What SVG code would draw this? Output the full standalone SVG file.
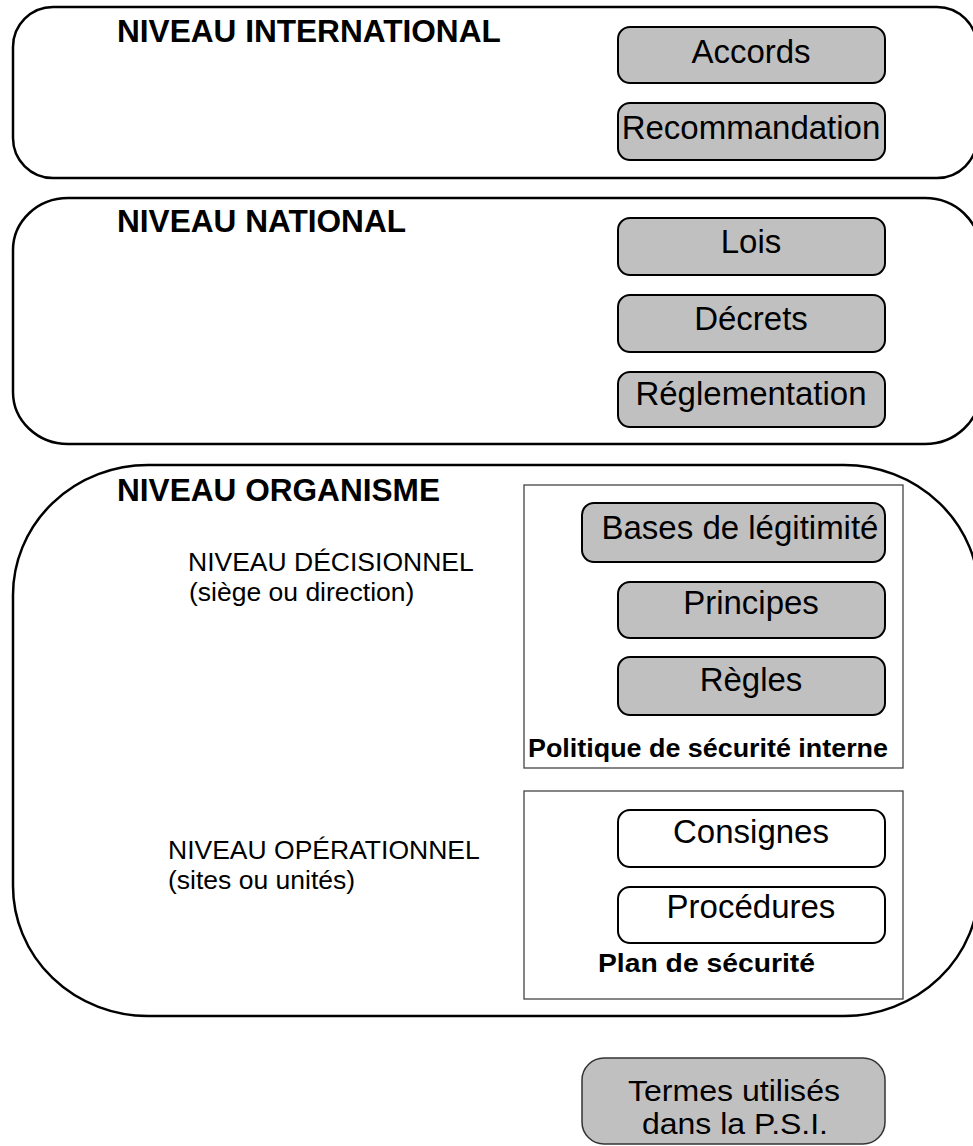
<svg xmlns="http://www.w3.org/2000/svg" width="973" height="1146" viewBox="0 0 973 1146">
<style>
.lvl{fill:#fff;stroke:#000;stroke-width:2.5}
.box{fill:#c0c0c0;stroke:#000;stroke-width:2}
.wbox{fill:#fff;stroke:#000;stroke-width:2}
.grp{fill:none;stroke:#444;stroke-width:1.3}
.h{font-family:"Liberation Sans",Arial,sans-serif;font-weight:bold;font-size:31.6px;fill:#000}
.t{font-family:"Liberation Sans",Arial,sans-serif;font-size:33px;fill:#000;text-anchor:middle}
.s{font-family:"Liberation Sans",Arial,sans-serif;font-size:26.5px;fill:#000}
.c{font-family:"Liberation Sans",Arial,sans-serif;font-weight:bold;font-size:26px;fill:#000}
.tt{font-family:"Liberation Sans",Arial,sans-serif;font-size:29px;fill:#000;text-anchor:middle}
</style>
<rect width="973" height="1146" fill="#fff"/>
<g id="niveau-international">
<rect class="lvl" x="13" y="7" width="964" height="171" rx="40" ry="40"/>
<text class="h" x="117" y="42">NIVEAU INTERNATIONAL</text>
</g>
<g id="accords"><rect class="box" x="618" y="27" width="267" height="56" rx="12"/><text class="t" x="751" y="63">Accords</text></g>
<g id="recommandation"><rect class="box" x="618" y="103" width="267" height="57" rx="12"/><text class="t" x="751" y="139">Recommandation</text></g>
<g id="niveau-national">
<rect class="lvl" x="13" y="198" width="967" height="246" rx="55" ry="52"/>
<text class="h" x="117" y="232">NIVEAU NATIONAL</text>
</g>
<g id="lois"><rect class="box" x="618" y="218" width="267" height="57" rx="12"/><text class="t" x="751" y="253">Lois</text></g>
<g id="decrets"><rect class="box" x="618" y="295" width="267" height="57" rx="12"/><text class="t" x="751" y="330">Décrets</text></g>
<g id="reglementation"><rect class="box" x="618" y="372" width="267" height="55" rx="12"/><text class="t" x="751" y="405">Réglementation</text></g>
<g id="niveau-organisme">
<rect class="lvl" x="13" y="465" width="966" height="551" rx="135" ry="130"/>
<text class="h" x="117" y="501">NIVEAU ORGANISME</text>
<text class="s" x="188" y="571">NIVEAU DÉCISIONNEL</text>
<text class="s" x="189" y="601">(siège ou direction)</text>
<text class="s" x="168" y="859">NIVEAU OPÉRATIONNEL</text>
<text class="s" x="168" y="889">(sites ou unités)</text>
</g>
<g id="politique-securite-interne">
<rect class="grp" x="524" y="485" width="379" height="283"/>
<text class="c" x="528" y="757" textLength="360" lengthAdjust="spacingAndGlyphs">Politique de sécurité interne</text>
</g>
<g id="bases"><rect class="box" x="582" y="503" width="303" height="59" rx="12"/><text class="t" x="740" y="539">Bases de légitimité</text></g>
<g id="principes"><rect class="box" x="618" y="582" width="267" height="56" rx="12"/><text class="t" x="751" y="614">Principes</text></g>
<g id="regles"><rect class="box" x="618" y="657" width="267" height="58" rx="12"/><text class="t" x="751" y="691">Règles</text></g>
<g id="plan-securite">
<rect class="grp" x="524" y="791" width="379" height="208"/>
<text class="c" x="598" y="972" textLength="217" lengthAdjust="spacingAndGlyphs">Plan de sécurité</text>
</g>
<g id="consignes"><rect class="wbox" x="618" y="810" width="267" height="57" rx="12"/><text class="t" x="751" y="843">Consignes</text></g>
<g id="procedures"><rect class="wbox" x="618" y="887" width="267" height="56" rx="12"/><text class="t" x="751" y="918">Procédures</text></g>
<g id="termes">
<rect x="582" y="1058" width="303" height="86" rx="22" fill="#c0c0c0" stroke="#333" stroke-width="1.5"/>
<text class="tt" x="734" y="1101" textLength="212" lengthAdjust="spacingAndGlyphs">Termes utilisés</text>
<text class="tt" x="735" y="1134" textLength="186" lengthAdjust="spacingAndGlyphs">dans la P.S.I.</text>
</g>
<g id="connectors"></g>
</svg>
